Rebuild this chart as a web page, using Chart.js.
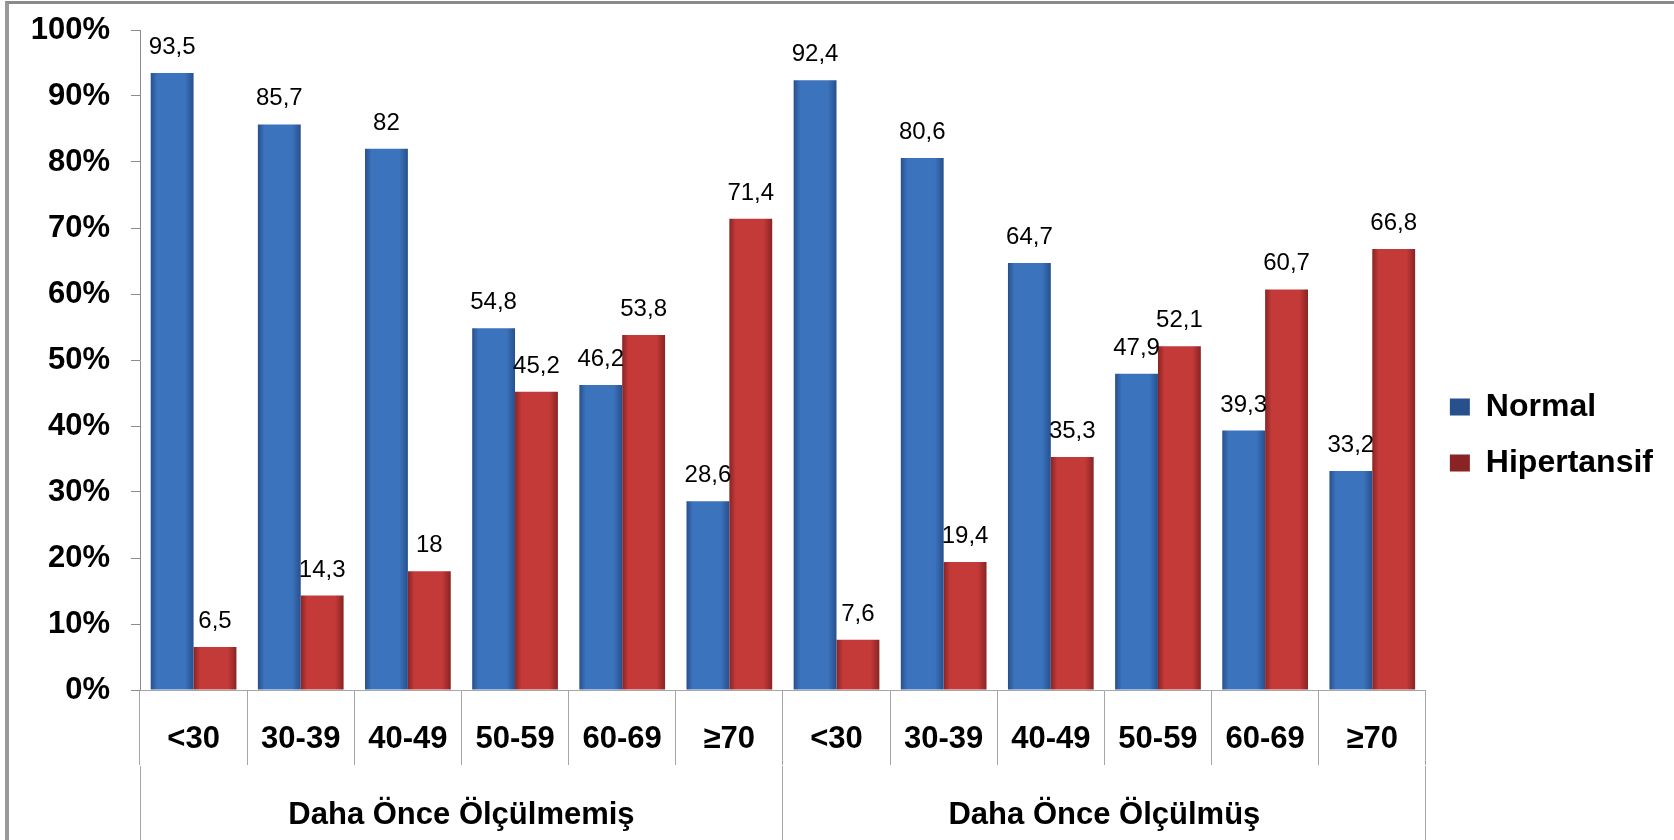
<!DOCTYPE html>
<html>
<head>
<meta charset="utf-8">
<script src="https://cdn.jsdelivr.net/npm/chart.js@4"></script>
<style>
  html, body { margin: 0; padding: 0; background: #fff; }
  #wrap { position: relative; width: 1674px; height: 840px; }
  #frame { position: absolute; left: 5px; top: 1px; right: 0; bottom: 0;
           border-top: 3px solid #8a8a8a; border-left: 4px solid #9a9a9a; pointer-events: none; }
</style>
</head>
<body>
<div id="wrap">
  <canvas id="bpChart" width="1674" height="840"></canvas>
  <div id="frame"></div>
</div>
<script>
const ageLabels = ['<30', '30-39', '40-49', '50-59', '60-69', '≥70',
                   '<30', '30-39', '40-49', '50-59', '60-69', '≥70'];
const groupLabels = ['Daha Önce Ölçülmemiş', 'Daha Önce Ölçülmüş'];
const normalValues = [93.5, 85.7, 82, 54.8, 46.2, 28.6, 92.4, 80.6, 64.7, 47.9, 39.3, 33.2];
const hipertansifValues = [6.5, 14.3, 18, 45.2, 53.8, 71.4, 7.6, 19.4, 35.3, 52.1, 60.7, 66.8];
const yTicks = [0, 10, 20, 30, 40, 50, 60, 70, 80, 90, 100];

const FONT = '"Liberation Sans", Arial, sans-serif';
const CAT_PCT = 0.8;

// horizontal shading per bar, worked out from the x scale
function barFill(dark, mid) {
    return (ctx) => {
        const xs = ctx.chart.scales.x;
        if (ctx.type !== 'data' || !xs) return mid;
        const center = xs.getPixelForValue(ctx.dataIndex);
        const cat = xs.getPixelForValue(1) - xs.getPixelForValue(0);
        if (!isFinite(center) || !isFinite(cat) || cat <= 0) return mid;
        const w = cat * CAT_PCT / 2;
        const left = ctx.datasetIndex === 0 ? center - w : center;
        const g = ctx.chart.ctx.createLinearGradient(left, 0, left + w, 0);
        g.addColorStop(0, dark);
        g.addColorStop(0.15, mid);
        g.addColorStop(0.8, mid);
        g.addColorStop(1, dark);
        return g;
    };
}

const valueLabels = {
    id: 'valueLabels',
    afterDatasetsDraw(chart) {
        const ctx = chart.ctx;
        ctx.save();
        ctx.font = '24px ' + FONT;
        ctx.fillStyle = '#000';
        ctx.textAlign = 'center';
        ctx.textBaseline = 'alphabetic';
        chart.data.datasets.forEach((ds, di) => {
            chart.getDatasetMeta(di).data.forEach((bar, i) => {
                ctx.fillText(String(ds.data[i]).replace('.', ','), bar.x, bar.y - 19);
            });
        });
        ctx.restore();
    }
};

const chart = new Chart(document.getElementById('bpChart'), {
    type: 'bar',
    data: {
        labels: ageLabels,
        datasets: [
            {
                label: 'Normal',
                data: normalValues,
                xAxisID: 'x',
                backgroundColor: barFill('#27508c', '#3b73bd'),
                categoryPercentage: CAT_PCT,
                barPercentage: 1
            },
            {
                label: 'Hipertansif',
                data: hipertansifValues,
                xAxisID: 'x',
                backgroundColor: barFill('#8a2323', '#c33a39'),
                categoryPercentage: CAT_PCT,
                barPercentage: 1
            }
        ]
    },
    options: {
        responsive: false,
        animation: false,
        layout: { padding: { top: 30, right: 11, bottom: 0, left: 0 } },
        scales: {
            y: {
                min: 0,
                max: 100,
                afterBuildTicks: (scale) => { scale.ticks = yTicks.map(v => ({ value: v })); },
                afterFit: (scale) => {
                    scale.width = 140;
                    scale.paddingTop = 0;
                    scale.paddingBottom = 0;
                },
                grid: { drawOnChartArea: false, tickLength: 9, color: '#8c8c8c' },
                border: { color: '#8c8c8c', width: 1 },
                ticks: {
                    padding: 21,
                    color: '#000',
                    font: { family: FONT, size: 31, weight: 'bold' },
                    callback: (v) => v + '%'
                }
            },
            x: {
                weight: 0,
                afterFit: (scale) => { scale.height = 76; },
                grid: { offset: true, drawOnChartArea: false, tickLength: 75, color: '#a6a6a6' },
                border: { color: '#a6a6a6', width: 1 },
                ticks: {
                    padding: -44,
                    color: '#000',
                    maxRotation: 0,
                    autoSkip: false,
                    font: { family: FONT, size: 31, weight: 'bold' }
                }
            },
            x2: {
                type: 'category',
                position: 'bottom',
                weight: 1,
                labels: groupLabels,
                offset: true,
                afterFit: (scale) => { scale.height = 74; },
                grid: { offset: true, drawOnChartArea: false, tickLength: 80, color: '#a6a6a6' },
                border: { display: false },
                ticks: {
                    padding: -49,
                    color: '#000',
                    maxRotation: 0,
                    autoSkip: false,
                    font: { family: FONT, size: 31, weight: 'bold' }
                }
            }
        },
        plugins: {
            legend: {
                position: 'right',
                labels: {
                    boxWidth: 20,
                    boxHeight: 17,
                    padding: 24,
                    color: '#000',
                    font: { family: FONT, size: 32, weight: 'bold' }
                }
            },
            tooltip: { enabled: false }
        }
    },
    plugins: [valueLabels]
});
// second pass so the bar shading sees the final scale
chart.update();
</script>
</body>
</html>
